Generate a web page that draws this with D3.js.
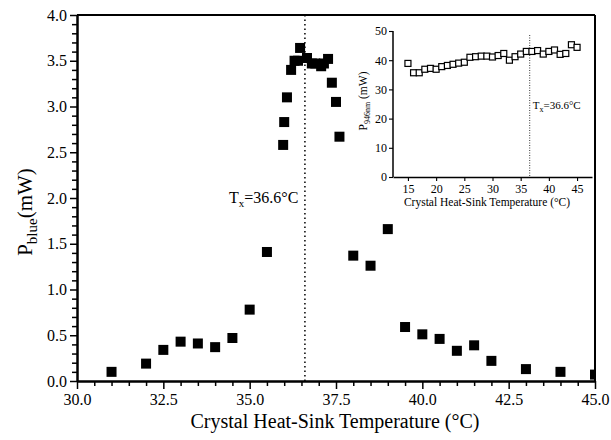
<!DOCTYPE html>
<html>
<head>
<meta charset="utf-8">
<script src="https://cdn.jsdelivr.net/npm/d3@7"></script>
<style>
  html, body { margin: 0; padding: 0; background: #fff; }
  svg { display: block; font-family: "Liberation Serif", "DejaVu Serif", serif; }
</style>
</head>
<body>
<svg id="chart" width="611" height="440"></svg>
<script>
// ---- Main plot data (P_blue vs crystal heat-sink temperature) ----
const mainTemps = [31.0, 32.0, 32.5, 33.0, 33.5, 34.0, 34.5, 35.0, 35.5,
  35.97, 36.0, 36.08, 36.2, 36.3, 36.4, 36.46, 36.66, 36.8, 36.9, 37.07, 37.15, 37.27, 37.38, 37.5, 37.6,
  38.0, 38.5, 39.0, 39.5, 40.0, 40.5, 41.0, 41.5, 42.0, 43.0, 44.0, 45.0];
const mainPower = [0.10, 0.19, 0.34, 0.43, 0.41, 0.37, 0.47, 0.78, 1.41,
  2.58, 2.83, 3.10, 3.40, 3.50, 3.50, 3.64, 3.53, 3.47, 3.47, 3.44, 3.47, 3.52, 3.26, 3.05, 2.67,
  1.37, 1.26, 1.66, 0.59, 0.51, 0.46, 0.33, 0.39, 0.22, 0.13, 0.10, 0.07];
const mainXTicks = [30.0, 32.5, 35.0, 37.5, 40.0, 42.5, 45.0];
const mainYTicks = [0.0, 0.5, 1.0, 1.5, 2.0, 2.5, 3.0, 3.5, 4.0];
const transitionTemp = 36.6;

// ---- Inset data (P_946nm vs temperature) ----
const insetTemps = [15, 16, 17, 18, 19, 20, 21, 22, 23, 24, 25, 26, 27, 28, 29, 30,
  31, 32, 33, 34, 35, 36, 37, 38, 39, 40, 41, 42, 43, 44, 45];
const insetPower = [38.9, 35.7, 35.7, 36.9, 37.2, 36.9, 37.8, 38.2, 38.6, 39.0, 39.3, 41.0, 41.2, 41.4, 41.4, 41.1,
  41.6, 42.3, 40.0, 41.2, 42.1, 43.0, 43.0, 43.3, 42.1, 43.0, 43.5, 42.0, 42.3, 45.3, 44.4];
const insetXTicks = [15, 20, 25, 30, 35, 40, 45];
const insetYTicks = [0, 10, 20, 30, 40, 50];

const svg = d3.select("#chart");

// ================= MAIN PLOT =================
const L = 77, R = 595, T = 15, B = 381;
const x = d3.scaleLinear().domain([30, 45]).range([L, R]);
const y = d3.scaleLinear().domain([0, 4]).range([B, T]);

const minorX = d3.range(30, 45.001, 0.5).filter(v => Math.abs((v / 2.5) - Math.round(v / 2.5)) > 1e-6);
const minorY = d3.range(0, 4.001, 0.1).map(v => +v.toFixed(1)).filter(v => Math.abs((v / 0.5) - Math.round(v / 0.5)) > 1e-6);

function styleAxis(g, width) {
  g.selectAll(".domain").attr("stroke", "#000").attr("stroke-width", width);
  g.selectAll(".tick line").attr("stroke", "#000").attr("stroke-width", width * 0.75);
}

// frame top and right
svg.append("line").attr("x1", L).attr("x2", R).attr("y1", T).attr("y2", T)
  .attr("stroke", "#000").attr("stroke-width", 2);
svg.append("line").attr("x1", R).attr("x2", R).attr("y1", T).attr("y2", B)
  .attr("stroke", "#000").attr("stroke-width", 2);

// minor ticks
const gxm = svg.append("g").attr("transform", `translate(0,${B})`)
  .call(d3.axisBottom(x).tickValues(minorX).tickFormat("").tickSize(5).tickSizeOuter(0));
styleAxis(gxm, 2);
const gym = svg.append("g").attr("transform", `translate(${L},0)`)
  .call(d3.axisLeft(y).tickValues(minorY).tickFormat("").tickSize(5).tickSizeOuter(0));
styleAxis(gym, 2);

// major ticks
const gx = svg.append("g").attr("transform", `translate(0,${B})`)
  .call(d3.axisBottom(x).tickValues(mainXTicks).tickFormat(d3.format(".1f")).tickSize(8).tickSizeOuter(0).tickPadding(5));
styleAxis(gx, 2);
gx.selectAll("text").attr("font-size", 16).attr("fill", "#000").attr("font-family", "Liberation Serif");

const gy = svg.append("g").attr("transform", `translate(${L},0)`)
  .call(d3.axisLeft(y).tickValues(mainYTicks).tickFormat(d3.format(".1f")).tickSize(7).tickSizeOuter(0).tickPadding(3));
styleAxis(gy, 2);
gy.selectAll("text").attr("font-size", 16).attr("fill", "#000").attr("font-family", "Liberation Serif");

// transition dotted line
svg.append("line")
  .attr("x1", x(transitionTemp)).attr("x2", x(transitionTemp))
  .attr("y1", T).attr("y2", B)
  .attr("stroke", "#000").attr("stroke-width", 1.5).attr("stroke-dasharray", "1.5,3");

// data
svg.append("clipPath").attr("id", "mainclip").append("rect")
  .attr("x", L).attr("y", T - 10).attr("width", R - L).attr("height", B - T + 20);
const sq = 10;
svg.append("g").attr("clip-path", "url(#mainclip)")
  .selectAll("rect").data(mainTemps.map((t, i) => [t, mainPower[i]]))
  .join("rect")
  .attr("x", d => x(d[0]) - sq / 2).attr("y", d => y(d[1]) - sq / 2)
  .attr("width", sq).attr("height", sq).attr("fill", "#000");

// Tx label
const tx = svg.append("text").attr("x", 229).attr("y", 203)
  .attr("font-size", 16).attr("fill", "#000");
tx.append("tspan").text("T");
tx.append("tspan").attr("font-size", 11).attr("dy", 4).text("x");
tx.append("tspan").attr("dy", -4).text("=36.6°C");

// axis titles
svg.append("text").attr("x", (L + R) / 2 - 1).attr("y", 428)
  .attr("text-anchor", "middle").attr("font-size", 20).attr("fill", "#000")
  .text("Crystal Heat-Sink Temperature (°C)");

const yl = svg.append("text").attr("transform", `translate(32,212) rotate(-90)`)
  .attr("text-anchor", "middle").attr("font-size", 21).attr("fill", "#000");
yl.append("tspan").text("P");
yl.append("tspan").attr("font-size", 15).attr("dy", 5).text("blue");
yl.append("tspan").attr("dy", -5).text("(mW)");

// ================= INSET =================
const iL = 393, iR = 592, iT = 31, iB = 177;
const ix = d3.scaleLinear().domain([12.35, 47.65]).range([iL, iR]);
const iy = d3.scaleLinear().domain([0, 50]).range([iB, iT]);

const igx = svg.append("g").attr("transform", `translate(0,${iB})`)
  .call(d3.axisBottom(ix).tickValues(insetXTicks).tickSize(4).tickSizeOuter(0).tickPadding(3));
styleAxis(igx, 1.5);
igx.selectAll("text").attr("font-size", 12).attr("fill", "#000").attr("font-family", "Liberation Serif");

const igy = svg.append("g").attr("transform", `translate(${iL},0)`)
  .call(d3.axisLeft(iy).tickValues(insetYTicks).tickSize(4).tickSizeOuter(0).tickPadding(2));
styleAxis(igy, 1.5);
igy.select(".domain").attr("d", `M0,${iB}V${iT}`);
igy.selectAll("text").attr("font-size", 12).attr("fill", "#000").attr("font-family", "Liberation Serif");

svg.append("line")
  .attr("x1", ix(transitionTemp)).attr("x2", ix(transitionTemp))
  .attr("y1", iT + 4).attr("y2", iB)
  .attr("stroke", "#333").attr("stroke-width", 1).attr("stroke-dasharray", "1,1.5");

const isq = 6;
svg.append("g").selectAll("rect").data(insetTemps.map((t, i) => [t, insetPower[i]]))
  .join("rect")
  .attr("x", d => ix(d[0]) - isq / 2).attr("y", d => iy(d[1]) - isq / 2)
  .attr("width", isq).attr("height", isq)
  .attr("fill", "#fff").attr("stroke", "#000").attr("stroke-width", 1.2);

const itx = svg.append("text").attr("x", ix(transitionTemp) + 3).attr("y", 109)
  .attr("font-size", 11).attr("fill", "#000");
itx.append("tspan").text("T");
itx.append("tspan").attr("font-size", 8).attr("dy", 3).text("x");
itx.append("tspan").attr("dy", -3).text("=36.6°C");

svg.append("text").attr("x", 487).attr("y", 206)
  .attr("text-anchor", "middle").attr("font-size", 11.5).attr("fill", "#000")
  .text("Crystal Heat-Sink Temperature (°C)");

const iyl = svg.append("text").attr("transform", `translate(367,101) rotate(-90)`)
  .attr("text-anchor", "middle").attr("font-size", 11.5).attr("fill", "#000");
iyl.append("tspan").text("P");
iyl.append("tspan").attr("font-size", 8).attr("dy", 3).text("946nm");
iyl.append("tspan").attr("dy", -3).text(" (mW)");
</script>
</body>
</html>
